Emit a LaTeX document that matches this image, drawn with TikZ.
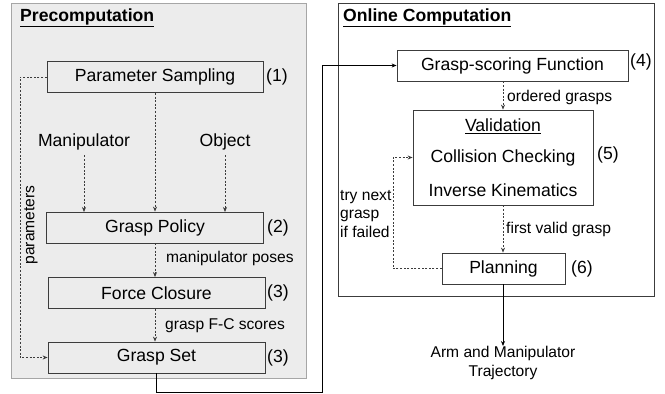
\documentclass[tikz,border=0pt]{standalone}
\usepackage{fontspec}
\setmainfont{Liberation Sans}
\usetikzlibrary{arrows.meta}
\definecolor{panelgray}{RGB}{236,236,236}
\definecolor{linegray}{RGB}{60,60,60}
\begin{document}
\begin{tikzpicture}[x=1pt,y=-1pt,
  bigfont/.style={font=\fontsize{17.6}{20}\selectfont},
  smallfont/.style={font=\fontsize{15.6}{18.5}\selectfont},
  stagebox/.style={draw=linegray,line width=0.8pt,fill=panelgray,bigfont,inner sep=0pt,minimum height=31pt},
  whitebox/.style={draw=linegray,line width=0.8pt,fill=white,bigfont,inner sep=0pt,minimum height=31pt},
  txt/.style={inner sep=0pt},
  tip/.style={-{Stealth[length=5pt,width=4pt]}},
  dasharrow/.style={tip,draw=linegray,line width=0.7pt,dash pattern=on 2pt off 1.6pt},
  solidarrow/.style={tip,draw=black,line width=0.8pt}
]
\useasboundingbox[fill=white] (0,0) rectangle (665,394);
% panels
\draw[draw=gray!70,fill=panelgray,line width=0.9pt] (11,3) rectangle (306,378);
\draw[draw=linegray,fill=white,line width=0.9pt] (338,3) rectangle (654,296);
\node[txt,anchor=west,font=\fontsize{17.6}{20}\selectfont\bfseries] (pretitle) at (20,18) {\underline{Precomputation}};
\node[txt,anchor=west,font=\fontsize{17.6}{20}\selectfont\bfseries] (ontitle) at (343,18) {\underline{Online Computation}};
% left nodes
\node[stagebox,minimum width=216pt] (ps) at (155,77) {Parameter Sampling};
\node[txt,bigfont,anchor=west] (n1) at (266,77) {(1)};
\node[txt,bigfont] (man) at (84,142) {Manipulator};
\node[txt,bigfont] (obj) at (225,142) {Object};
\node[stagebox,minimum width=217pt] (gp) at (155,227.5) {Grasp Policy};
\node[txt,bigfont,anchor=west] (n2) at (267,227.5) {(2)};
\node[stagebox,minimum width=217pt] (fc) at (156.5,293) {Force Closure};
\node[txt,bigfont,anchor=west] (n3a) at (267,293) {(3)};
\node[stagebox,minimum width=217pt] (gset) at (156.5,357.5) {Grasp Set};
\node[txt,bigfont,anchor=west] (n3b) at (267,357.5) {(3)};
\node[txt,smallfont,anchor=west] (lmp) at (166,258) {manipulator poses};
\node[txt,smallfont,anchor=west] (lfc) at (165,326) {grasp F-C scores};
\node[txt,smallfont,rotate=90] (lpar) at (31,225) {parameters};
% right nodes
\node[whitebox,minimum width=231pt] (gs) at (512.5,65.5) {Grasp-scoring Function};
\node[txt,bigfont,anchor=west] (n4) at (630,62) {(4)};
\node[whitebox,minimum width=180pt,minimum height=95pt] (val) at (503,157.5) {};
\node[txt,bigfont] (valt) at (503,126) {\underline{Validation}};
\node[txt,bigfont] (cc) at (503,158) {Collision Checking};
\node[txt,bigfont] (ik) at (503,190) {Inverse Kinematics};
\node[txt,bigfont,anchor=west] (n5) at (597,155) {(5)};
\node[whitebox,minimum width=123pt] (pl) at (503.5,268.5) {Planning};
\node[txt,bigfont,anchor=west] (n6) at (571,268.5) {(6)};
\node[txt,smallfont,anchor=west] (log) at (507,97) {ordered grasps};
\node[txt,smallfont,anchor=west] (lfv) at (506,229) {first valid grasp};
\node[txt,smallfont,anchor=west,align=left] (ltry) at (340,214) {try next\\grasp\\if failed};
\node[txt,smallfont,align=center,anchor=north] (out) at (503,346) {Arm and Manipulator\\Trajectory};
% coordinates
\coordinate (parx) at (20,77);
\coordinate (fbx) at (393,157.5);
\coordinate (c1) at (322,392);
% left connectors
\draw[dasharrow] (man.south) ++(0,5) -- (84,212);
\draw[dasharrow] (obj.south) ++(0,5) -- (225,212);
\draw[dasharrow] (ps.south) -- (gp.north);
\draw[dasharrow] (gp.south) -- (gp.south |- fc.north);
\draw[dasharrow] (fc.south -| gp.south) -- (gp.south |- gset.north);
\draw[dasharrow] (ps.west) -- (parx) |- (gset.west);
% link
\draw[solidarrow] (gset.south) |- (c1) -- (c1 |- gs.west) -- (gs.west);
% right connectors
\draw[dasharrow] (val.north |- gs.south) -- (val.north);
\draw[dasharrow] (val.south) -- (val.south |- pl.north);
\draw[dasharrow] (pl.west) -| (fbx) -- (val.west);
\draw[solidarrow] (pl.south -| val.south) -- (out.north -| val.south);
\end{tikzpicture}
\end{document}
